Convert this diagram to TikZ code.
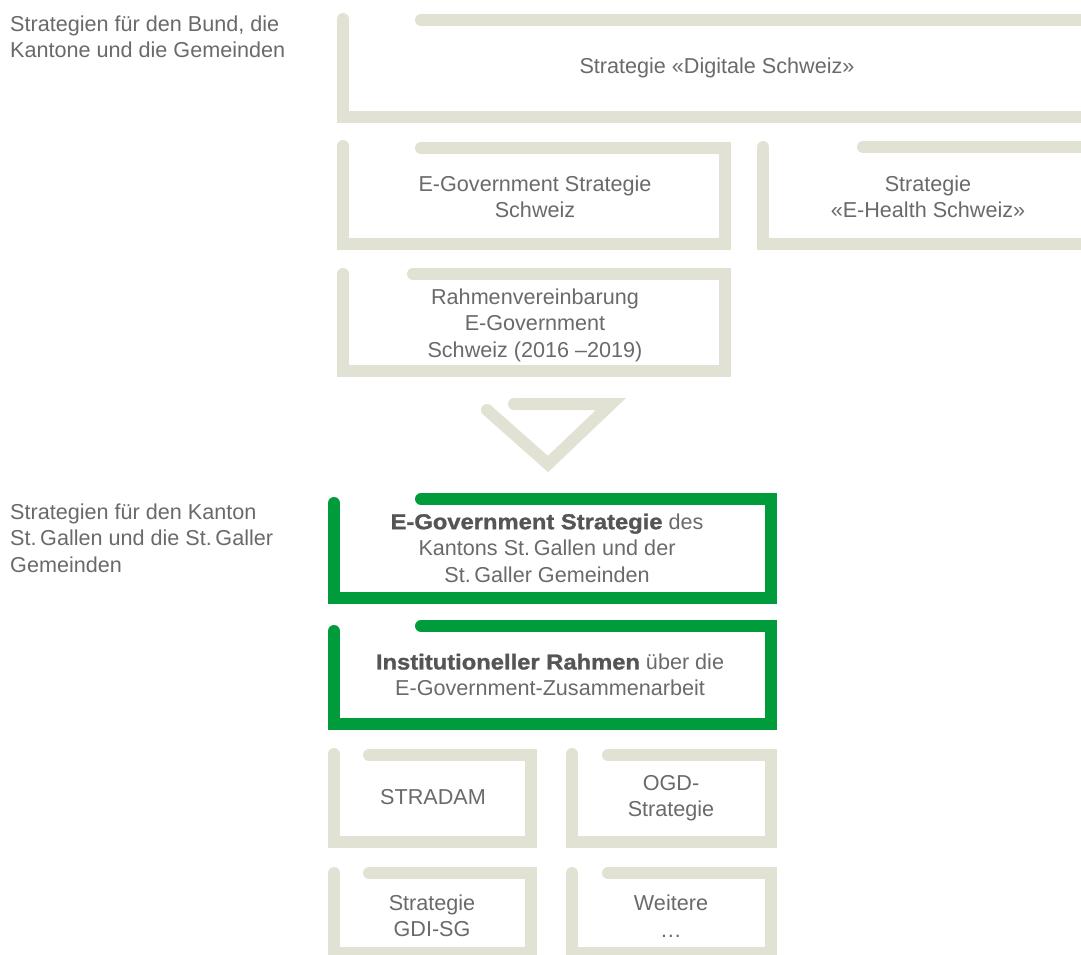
\documentclass[tikz,border=0pt]{standalone}
\usepackage{fontspec}
\setmainfont{Liberation Sans}
\newfontface\blackface{Liberation Sans Bold}[FakeBold=1.2, FakeStretch=1.1]
\definecolor{framegrey}{HTML}{E1E1D4}
\definecolor{sggreen}{HTML}{009B3A}
\definecolor{textgrey}{HTML}{6A6A6A}
\definecolor{darkgrey}{HTML}{555555}
\newcommand{\heavy}[1]{{\blackface\color{darkgrey}#1}}
\tikzset{
    frame/.style={draw=framegrey, line width=12pt, line cap=round, line join=miter},
    greenframe/.style={frame, draw=sggreen},
    boxtext/.style={align=center, inner sep=0pt, text=textgrey, font=\fontsize{21.6}{26.5}\selectfont},
    sidetext/.style={boxtext, align=left, anchor=west}
}
\begin{document}
\begin{tikzpicture}[x=1pt, y=-1pt]
    % picture size of the reference, pixels as points
    \clip (0,0) rectangle (1081,955);
    \fill[white] (0,0) rectangle (1081,955);

    % variables
    \def\leftx{343}   % left edge of the federal boxes
    \def\greenx{334}  % left edge of the cantonal boxes
    \def\midx{725}    % right edge of the narrow boxes
    \def\farx{1095}   % right edge beyond the page

    % Digitale Schweiz
    \draw[frame] (\leftx,19) -- (\leftx,117) -- (\farx,117) -- (\farx,20) -- (421,20);
    \node[boxtext] (digital) at (717,68) {Strategie «Digitale Schweiz»};

    % E-Government and E-Health
    \draw[frame] (\leftx,146) -- (\leftx,244) -- (\midx,244) -- (\midx,148) -- (421,148);
    \draw[frame] (763,147) -- (763,244) -- (\farx,244) -- (\farx,147) -- (863,147);
    \node[boxtext] (egovch) at (535,197) {E-Government Strategie\\Schweiz};
    \node[boxtext] (ehealth) at (928,197) {Strategie\\«E-Health Schweiz»};

    % Rahmenvereinbarung
    \draw[frame] (\leftx,274) -- (\leftx,371) -- (\midx,371) -- (\midx,274) -- (413,274);
    \node[boxtext] (rahmen) at (535,325) {Rahmenvereinbarung\\E-Government\\Schweiz (2016 –2019)};

    % Triangle
    \draw[frame] (487,410) -- (548,464) -- (611,404) -- (514,404);

    % Cantonal boxes
    \draw[greenframe] (\greenx,503) -- (\greenx,598) -- (771,598) -- (771,499) -- (421,499);
    \node[boxtext] (egovsg) at (547,548) {\heavy{E-Government Strategie} des\\Kantons St.\,Gallen und der\\St.\,Galler Gemeinden};
    \draw[greenframe] (\greenx,631) -- (\greenx,724) -- (771,724) -- (771,626) -- (421,626);
    \node[boxtext] (institut) at (550,675) {\heavy{Institutioneller Rahmen} über die\\E-Government-Zusammenarbeit};

    % Small boxes
    \draw[frame] (\greenx,754) -- (\greenx,842) -- (531,842) -- (531,755) -- (369,755);
    \draw[frame] (572,754) -- (572,842) -- (771,842) -- (771,755) -- (608,755);
    \draw[frame] (\greenx,873) -- (\greenx,953) -- (531,953) -- (531,873) -- (369,873);
    \draw[frame] (572,873) -- (572,953) -- (771,953) -- (771,873) -- (608,873);
    \node[boxtext] (stradam) at (433,797) {STRADAM};
    \node[boxtext] (ogd) at (671,798) {OGD-\\Strategie};
    \node[boxtext] (gdisg) at (432,916) {Strategie\\GDI-SG};
    \node[boxtext] (weitere) at (671,916) {Weitere\\…};

    % Side labels
    \node[sidetext] (bund) at (10,37) {Strategien für den Bund, die\\Kantone und die Gemeinden};
    \node[sidetext] (kanton) at (10,538) {Strategien für den Kanton\\St.\,Gallen und die St.\,Galler\\Gemeinden};
\end{tikzpicture}
\end{document}
